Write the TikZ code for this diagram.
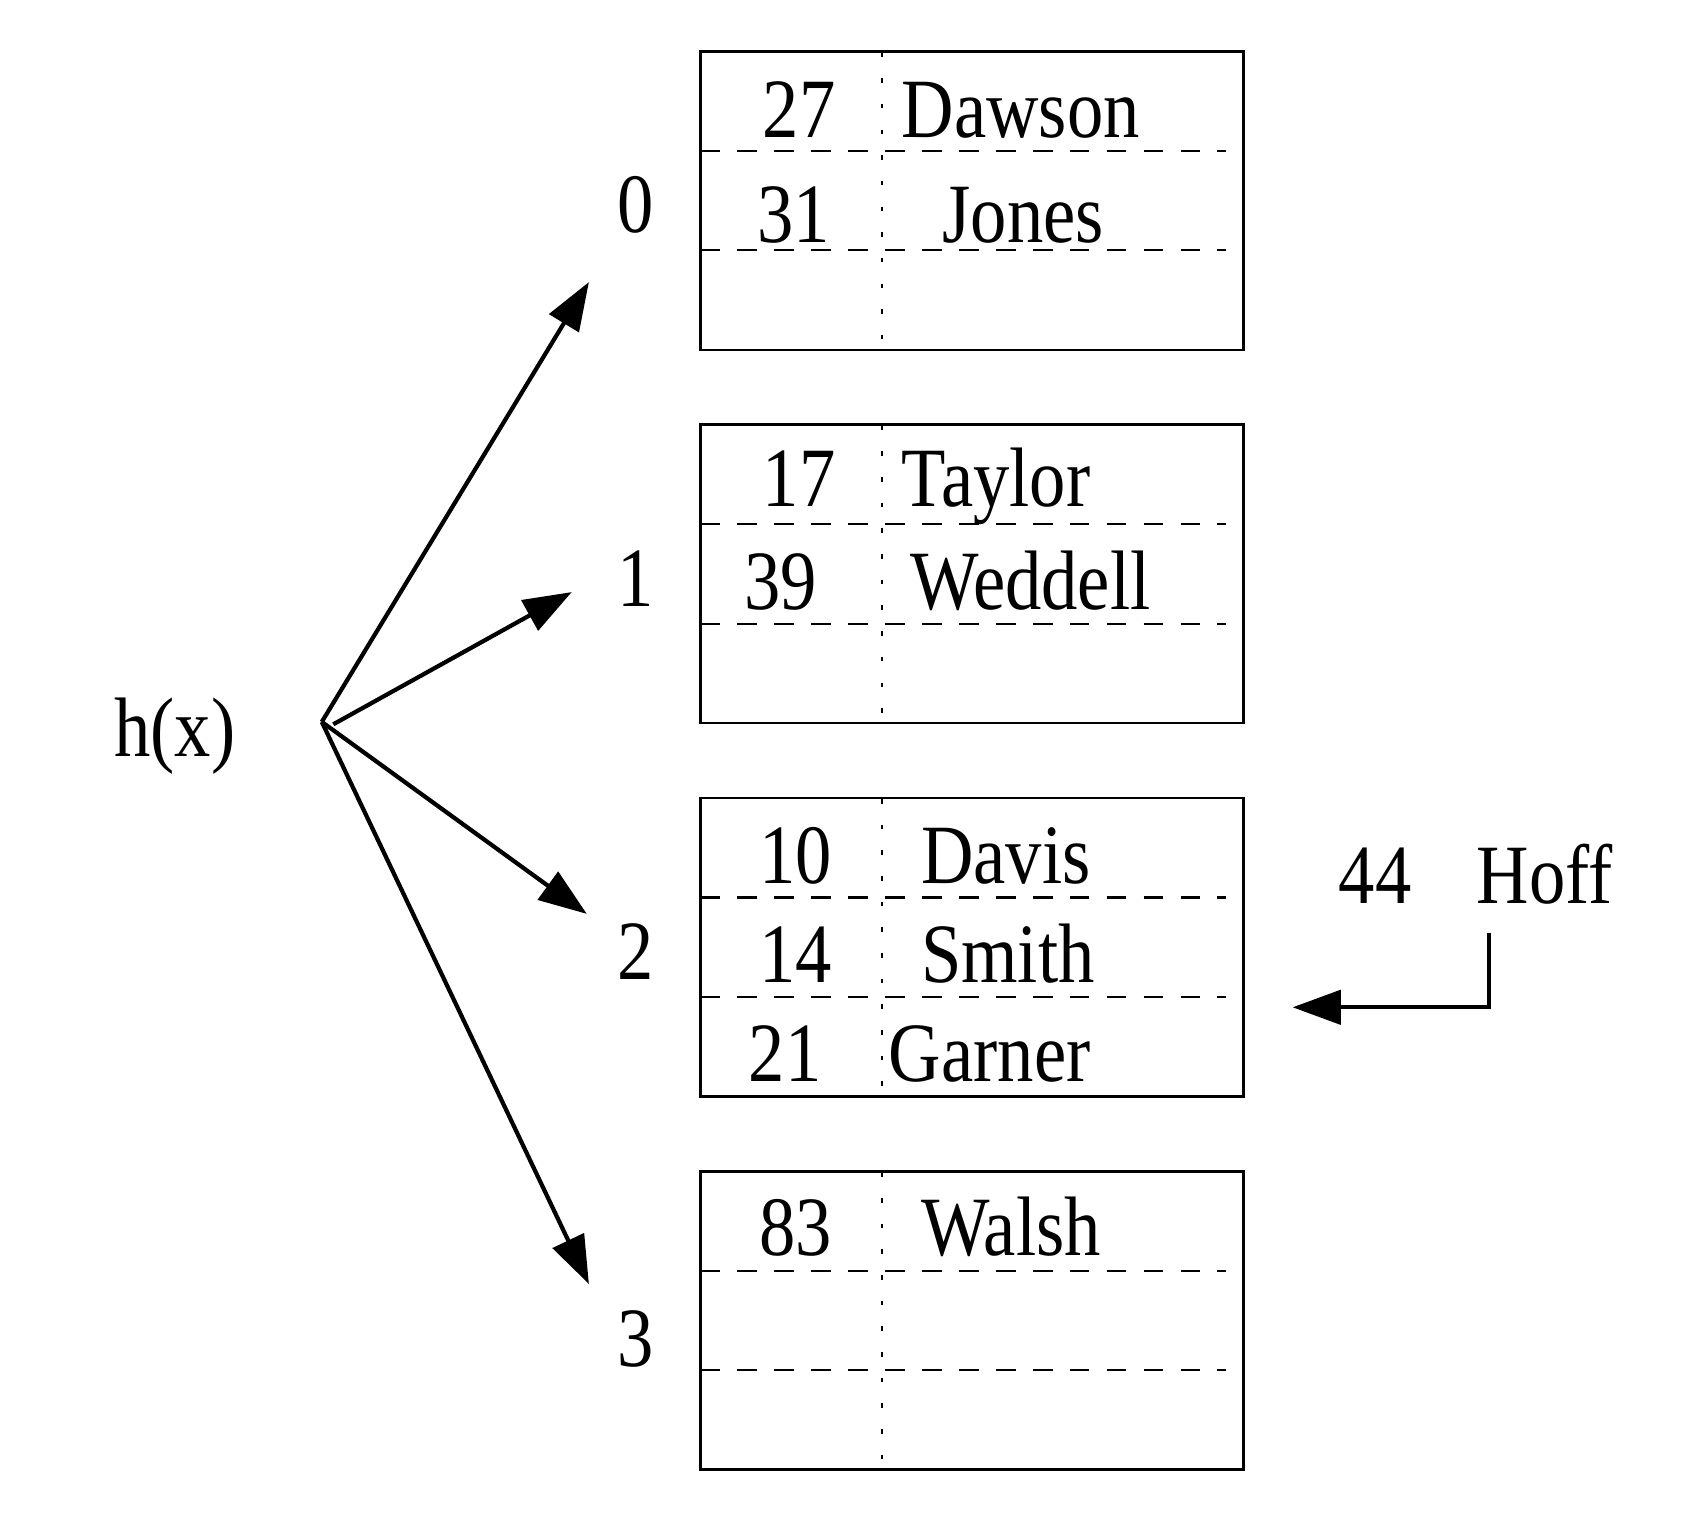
\documentclass[tikz,border=0pt]{standalone}
\usepackage{fontspec}
\setmainfont{Liberation Serif}[FakeStretch=0.86]
\usetikzlibrary{arrows.meta}
\tikzset{
  bucket/.style={draw, line width=0.7pt, minimum width=5.428cm, minimum height=2.982cm, inner sep=0pt},
  rowsep/.style={line width=0.6pt, dash pattern=on 5.6pt off 4.9pt},
  colsep/.style={line width=0.6pt, dash pattern=on 1.3pt off 6pt},
  rectxt/.style={inner sep=0pt, font=\fontsize{24}{28}\selectfont},
  recnum/.style={rectxt, anchor=base},
  recname/.style={rectxt, anchor=base west},
  ptr/.style={line width=1.2pt, -{Triangle[length=13.7pt, width=9.7pt]}},
}
\begin{document}
\begin{tikzpicture}[x=0.01cm,y=-0.01cm]
\useasboundingbox (0,0) rectangle (1682,1534);
% buckets
\foreach \i/\t in {0/51.5, 1/424.8, 2/798.1, 3/1171.4} {
  \node[bucket] (b\i) at (971.9,\t+149.1) {};
  \draw[rowsep] (700.5,\t+99.4) -- (1226,\t+99.4);
  \draw[rowsep] (700.5,\t+198.8) -- (1226,\t+198.8);
  \draw[colsep] (881.8,\t+1) -- (881.8,\t+289);
}
% bucket labels
\node[recnum] (l0) at (636.1,232.8) {0};
\node[recnum] (l1) at (636.1,606.1) {1};
\node[recnum] (l2) at (636.1,979.4) {2};
\node[recnum] (l3) at (636.1,1366.6) {3};
% records
\node[recnum] (k27) at (799.2,137.3) {27};
\node[recname] (n27) at (901.1,137.3) {Dawson};
\node[recnum] (k31) at (793.8,242.4) {31};
\node[recname] (n31) at (941.8,242.4) {Jones};
\node[recnum] (k17) at (799.2,506.3) {17};
\node[recname] (n17) at (901.1,506.3) {Taylor};
\node[recnum] (k39) at (780.9,609.3) {39};
\node[recname] (n39) at (909.6,609.3) {Weddell};
\node[recnum] (k10) at (795.9,883.9) {10};
\node[recname] (n10) at (920.4,883.9) {Davis};
\node[recnum] (k14) at (795.9,982.6) {14};
\node[recname] (n14) at (920.4,982.6) {Smith};
\node[recnum] (k21) at (785.2,1081.3) {21};
\node[recname] (n21) at (888.2,1081.3) {Garner};
\node[recnum] (k83) at (795.9,1255.1) {83};
\node[recname] (n83) at (920.4,1255.1) {Walsh};
% hash function
\node[recnum] (hx) at (174.9,756.3) {h(x)};
\coordinate (o) at (321.8,721.9);
\coordinate (o1) at (333.3,724.3);
\coordinate (t0) at (588.9,282.1);
\coordinate (t1) at (571.7,592.1);
\coordinate (t2) at (586.8,913.9);
\coordinate (t3) at (588.9,1284.0);
\draw[ptr] (o) -- (t0);
\draw[ptr] (o1) -- (t1);
\draw[ptr] (o) -- (t2);
\draw[ptr] (o) -- (t3);
% new record
\node[recnum] (k44) at (1375.2,903.2) {44};
\node[recnum] (n44) at (1544.7,903.2) {Hoff};
\coordinate (h0) at (1488.9,933.3);
\coordinate (h1) at (1488.9,1007.3);
\coordinate (h2) at (1292.6,1007.3);
\draw[ptr] (h0) -- (h1) -- (h2);
\end{tikzpicture}
\end{document}
